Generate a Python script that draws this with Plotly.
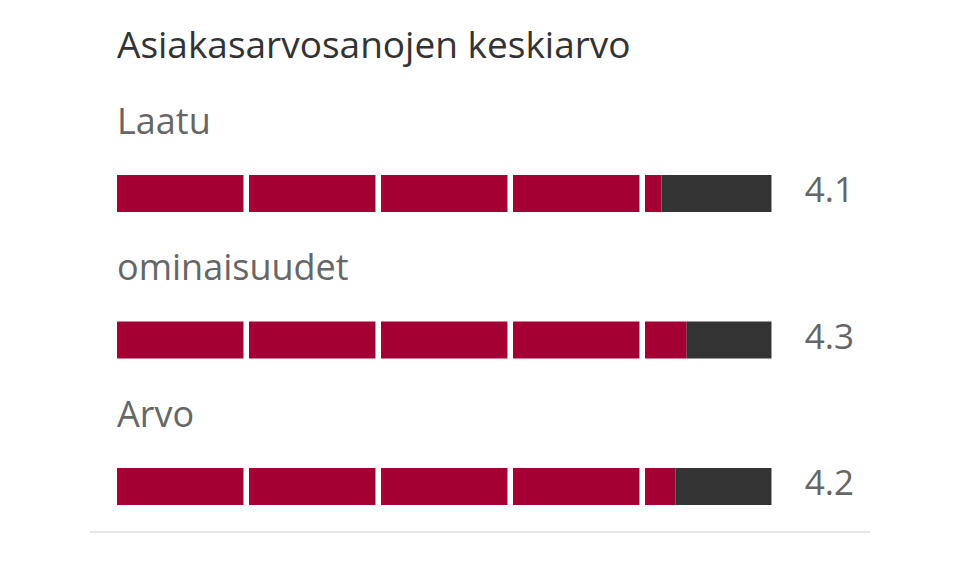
import plotly.graph_objects as go

title = "Asiakasarvosanojen keskiarvo"
categories = ["Laatu", "ominaisuudet", "Arvo"]
scores = [4.13, 4.33, 4.24]
max_score = 5

RED = "#a50034"
GRAY = "#333333"
FONT = "'Open Sans', sans-serif"

# each point of the score is one segment, with a small white gap after it
seg_w = 0.958

red_y, red_base, red_len = [], [], []
gray_y, gray_base, gray_len = [], [], []
for k, s in enumerate(scores):
    for i in range(max_score):
        fill = min(max(s - i, 0), 1) * seg_w
        if fill > 0:
            red_y.append(k); red_base.append(i); red_len.append(fill)
        if seg_w - fill > 0:
            gray_y.append(k); gray_base.append(i + fill); gray_len.append(seg_w - fill)

fig = go.Figure()
fig.add_trace(go.Bar(y=red_y, x=red_len, base=red_base, orientation="h",
                     width=0.2526, marker=dict(color=RED, line=dict(width=0)),
                     hoverinfo="skip"))
fig.add_trace(go.Bar(y=gray_y, x=gray_len, base=gray_base, orientation="h",
                     width=0.2526, marker=dict(color=GRAY, line=dict(width=0)),
                     hoverinfo="skip"))

# value labels on the right
fig.add_trace(go.Scatter(
    x=[5.21] * len(scores), y=list(range(len(scores))),
    mode="text", text=[f"{s:.1f}" for s in scores],
    textposition="middle right",
    textfont=dict(family=FONT, size=35, color="#666666"),
    hoverinfo="skip"))

# category names above each bar
for k, c in enumerate(categories):
    fig.add_annotation(x=0, y=k - 0.5, text=c, showarrow=False,
                       xanchor="left", yanchor="middle", xshift=-2,
                       font=dict(family=FONT, size=36, color="#666666"))

fig.add_annotation(x=0, y=-1.025, text=title, showarrow=False,
                   xanchor="left", yanchor="middle", xshift=-2,
                   font=dict(family=FONT, size=37, color="#333333"))

# divider line below the chart
fig.add_shape(type="line", xref="paper", yref="paper",
              x0=0.0854, x1=0.898, y0=0.095, y1=0.095,
              line=dict(color="#e6e6e6", width=2))

# page body has an 8px margin, so ranges are shifted to compensate
fig.update_layout(
    width=960, height=579,
    margin=dict(l=0, r=0, t=0, b=0),
    paper_bgcolor="white", plot_bgcolor="white",
    barmode="overlay", showlegend=False,
    xaxis=dict(range=[-0.826, 6.447], visible=False, fixedrange=True),
    yaxis=dict(range=[2.686, -1.266], visible=False, fixedrange=True),
)

fig.write_html("out.html", config={"displayModeBar": False})
